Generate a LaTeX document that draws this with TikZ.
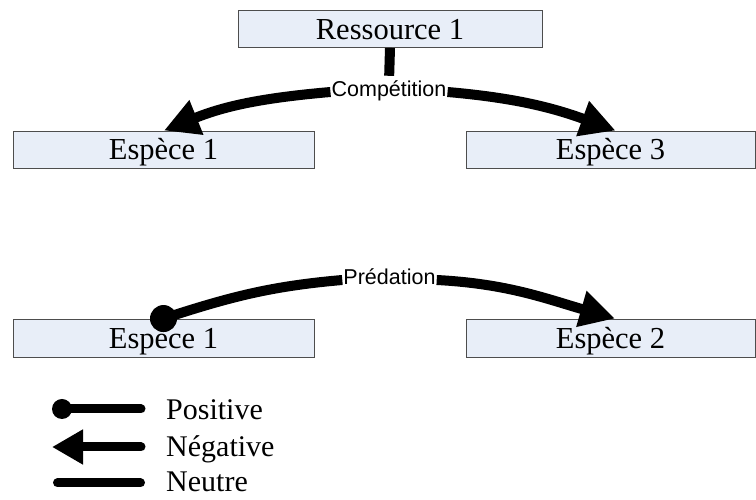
\documentclass[tikz,border=0pt]{standalone}
\usepackage{fontspec}
\setmainfont{Liberation Serif}
\newfontfamily\labelfont{Liberation Sans}
\usetikzlibrary{arrows.meta,calc}
\definecolor{boxfill}{HTML}{E8EEF8}
\definecolor{boxline}{HTML}{4D4D4D}
\begin{document}
\begin{tikzpicture}[x=1pt,y=1pt,
  species/.style={draw=boxline, line width=0.9pt, fill=boxfill, minimum height=37pt,
    inner sep=0pt, text height=21pt, text depth=0pt, font=\fontsize{30.5}{36}\selectfont},
  rel/.style={anchor=base, font=\labelfont\fontsize{21.5}{24}\selectfont,
    inner sep=1pt, text height=14pt, text depth=4pt},
  link/.style={line width=10pt},
  neg/.style={link, -{Triangle[length=35pt,width=35pt]}},
  legtext/.style={anchor=base west, inner sep=0pt, font=\fontsize{30}{36}\selectfont},
  legline/.style={line width=9pt, line cap=round},
]
\useasboundingbox (0,0) rectangle (756,500);

% competition for a shared resource
\node[species, minimum width=304pt] (res) at (390,471) {Ressource 1};
\node[species, minimum width=301pt] (e1) at (163.5,350.5) {Espèce 1};
\node[species, minimum width=289pt] (e3) at (610.5,350.5) {Espèce 3};
\node[rel] (comp) at (389,403) {Compétition};
\draw[link, shorten >=6pt] (res.south) -- (comp.north);
\draw[neg] (comp.west) to[out=185,in=22] ($(e1.north)+(0.5,0)$);
\draw[neg] (comp.east) to[out=-5,in=160] ($(e3.north)+(5,0)$);

% predation
\node[species, minimum width=301pt, minimum height=38pt] (p1) at (163.5,162) {Espèce 1};
\node[species, minimum width=289pt, minimum height=38pt] (p2) at (610.5,162) {Espèce 2};
\node[rel] (pred) at (389.5,215) {Prédation};
\node[circle, fill=black, minimum size=27pt, inner sep=0pt] (pdot) at (p1.north) {};
\draw[link] (pred.west) to[out=185,in=18] (pdot.center);
\draw[neg] (pred.east) to[out=-3,in=164] ($(p2.north)+(4.5,0)$);

% legend
\node[circle, fill=black, minimum size=20pt, inner sep=0pt] (ldot) at (62,91) {};
\coordinate (lposend) at (141,91);
\draw[legline] (ldot.center) -- (lposend);
\coordinate (lnegstart) at (141,53);
\coordinate (lnegtip) at (52,53);
\draw[legline, -{Triangle[length=31pt,width=33pt]}] (lnegstart) -- (lnegtip);
\coordinate (lneua) at (57.5,17);
\coordinate (lneub) at (140.5,17);
\draw[legline] (lneua) -- (lneub);
\node[legtext] (tpos) at (166,80) {Positive};
\node[legtext] (tneg) at (166,43) {Négative};
\node[legtext] (tneu) at (166,8) {Neutre};
\end{tikzpicture}
\end{document}
